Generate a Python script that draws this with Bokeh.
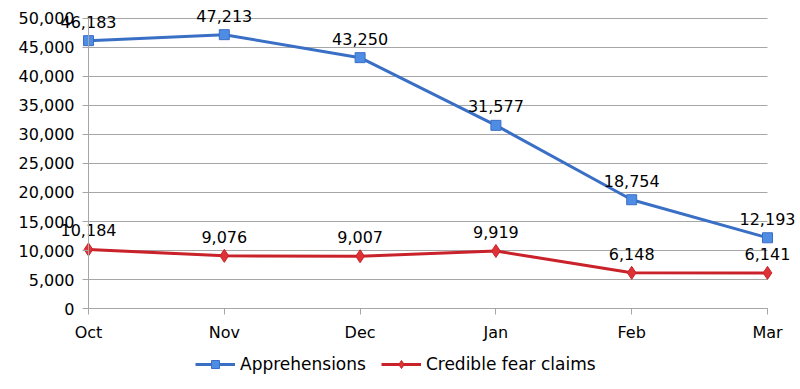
from bokeh.plotting import figure
from bokeh.models import ColumnDataSource, Range1d, FixedTicker, Legend, LegendItem, LinearAxis
from bokeh.core.properties import value
from bokeh.embed import file_html
from bokeh.resources import INLINE

months = ["Oct", "Nov", "Dec", "Jan", "Feb", "Mar"]
apprehensions = [46183, 47213, 43250, 31577, 18754, 12193]
credible_fear = [10184, 9076, 9007, 9919, 6148, 6141]
y_ticks = [0, 5000, 10000, 15000, 20000, 25000, 30000, 35000, 40000, 45000, 50000]

xs = list(range(len(months)))
src_a = ColumnDataSource(dict(x=xs, y=apprehensions, lbl=[f"{v:,}" for v in apprehensions]))
src_c = ColumnDataSource(dict(x=xs, y=credible_fear, lbl=[f"{v:,}" for v in credible_fear]))

FONT = "DejaVu Sans"
blue = "#3a6fc6"
red = "#c9222a"
axis_grey = "#a6a6a6"

# frame covers the whole picture so that labels may overlap the axis area
p = figure(frame_width=788, frame_height=379, output_backend="svg", toolbar_location=None,
           x_range=Range1d(-0.5744, 5.2283), y_range=Range1d(-12241, 53103),
           x_axis_location=None, y_axis_location=None,
           min_border_left=10, min_border_right=0, min_border_top=0, min_border_bottom=10)
p.outline_line_color = None
p.xgrid.grid_line_color = None
p.ygrid.grid_line_color = None

# horizontal grid lines spanning the category extent
p.segment(x0=[xs[0]] * len(y_ticks), x1=[xs[-1]] * len(y_ticks), y0=y_ticks, y1=y_ticks,
          line_color=axis_grey, line_width=1)

# axes fixed at the data origin
xa = LinearAxis(fixed_location=0, bounds=(xs[0], xs[-1]), ticker=FixedTicker(ticks=xs))
ya = LinearAxis(fixed_location=0, bounds=(y_ticks[0], y_ticks[-1]), ticker=FixedTicker(ticks=y_ticks))
for ax in (xa, ya):
    ax.axis_line_color = axis_grey
    ax.major_tick_line_color = axis_grey
    ax.major_tick_in = 0
    ax.major_tick_out = 6
    ax.minor_tick_line_color = None
    ax.major_label_text_font_size = "0px"
    ax.major_label_standoff = 0
    ax.major_label_text_alpha = 0
p.add_layout(xa, "below")
p.add_layout(ya, "left")

# tick labels
p.text(x=[0] * len(y_ticks), y=y_ticks, text=[f"{t:,}" for t in y_ticks], text_align="right",
       text_baseline="middle", x_offset=-14, text_font=value(FONT), text_font_size="16px", text_color="black")
p.text(x=xs, y=[0] * len(xs), text=months, text_align="center", text_baseline="alphabetic",
       y_offset=24, text_font=value(FONT), text_font_size="16px", text_color="black")

la = p.line("x", "y", source=src_a, line_color=blue, line_width=3)
sa = p.scatter("x", "y", source=src_a, marker="square", size=10, fill_color="#4f8de4", line_color=blue, line_width=1)
lc = p.line("x", "y", source=src_c, line_color=red, line_width=3)
sc = p.scatter("x", "y", source=src_c, marker="diamond", size=13, fill_color="#dd3336", line_color=red, line_width=1)

for src in (src_a, src_c):
    p.text(x="x", y="y", text="lbl", source=src, text_align="center", text_baseline="alphabetic",
           y_offset=-19, text_font=value(FONT), text_font_size="16px", text_color="black")

legend = Legend(items=[LegendItem(label="Apprehensions", renderers=[la, sa]),
                       LegendItem(label="Credible fear claims", renderers=[lc, sc])],
                orientation="horizontal", location=(185, 5),
                label_text_font=FONT, label_text_font_size="17px", label_text_color="black",
                glyph_width=40, glyph_height=20, spacing=15, border_line_color=None, background_fill_alpha=0,
                padding=2, margin=0, label_standoff=5)
p.add_layout(legend, "center")

open("out.html", "w").write(file_html(p, INLINE))
